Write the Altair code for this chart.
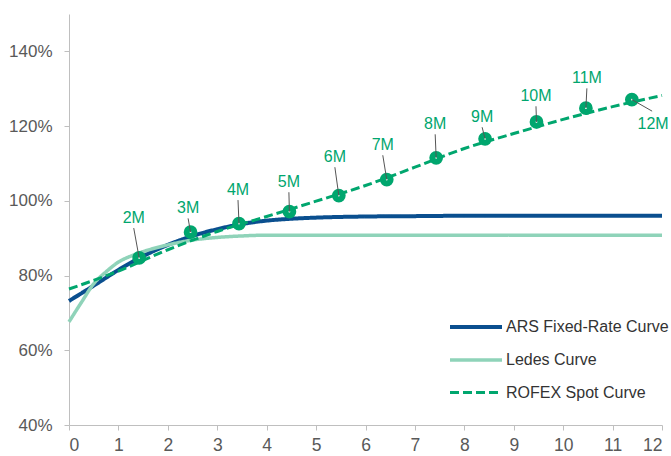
import altair as alt
import pandas as pd

# ---- curve samples (tenor in months vs. rate, %) ----
ars_x = [0, 0.5, 1, 1.5, 2, 2.5, 3, 3.5, 4, 4.5, 5, 6, 7, 8, 9, 10, 11, 12]
ars_y = [73.2, 77.3, 81.5, 85.2, 88.2, 90.6, 92.4, 93.8, 94.7, 95.2, 95.5, 95.8, 95.9, 96.0, 96.0, 96.0, 96.0, 96.0]

ledes_x = [0, 0.25, 0.5, 0.75, 1, 1.25, 1.5, 2, 2.5, 3, 3.5, 4, 5, 6, 7, 8, 9, 10, 11, 12]
ledes_y = [67.6, 72.8, 77.8, 81.0, 83.6, 85.2, 86.4, 88.2, 89.5, 90.2, 90.6, 90.8, 90.8, 90.8, 90.8, 90.8, 90.8, 90.8, 90.8, 90.8]

rofex_x = [0, 1, 2, 3, 4, 5, 6, 7, 8, 9, 10, 11, 12]
rofex_y = [76.4, 81.2, 86.9, 91.8, 95.8, 99.9, 104.1, 109.0, 114.0, 118.0, 121.8, 125.2, 128.2]

# ---- ROFEX contract points and their tags ----
tenor_labels = ["2M", "3M", "4M", "5M", "6M", "7M", "8M", "9M", "10M", "11M", "12M"]
spot_x = [1.42, 2.46, 3.44, 4.46, 5.46, 6.43, 7.43, 8.42, 9.46, 10.46, 11.39]
spot_y = [84.7, 91.6, 93.9, 97.1, 101.4, 105.7, 111.5, 116.6, 121.1, 124.8, 127.1]
tag_x = [1.31, 2.41, 3.42, 4.45, 5.38, 6.35, 7.41, 8.36, 9.45, 10.48, 11.80]
tag_y = [92.7, 95.3, 100.2, 102.3, 109.0, 112.2, 117.8, 119.7, 125.3, 130.1, 124.0]
tag_below = [False] * 10 + [True]

series_names = ["ARS Fixed-Rate Curve", "Ledes Curve", "ROFEX Spot Curve"]
series_colors = ["#0A4F8F", "#8FD3B9", "#00A66E"]
series_dash = [[1, 0], [1, 0], [9, 4]]
series_width = [4, 3, 4]

curves = pd.concat([
    pd.DataFrame({"x": ars_x, "y": ars_y, "series": series_names[0]}),
    pd.DataFrame({"x": ledes_x, "y": ledes_y, "series": series_names[1]}),
    pd.DataFrame({"x": rofex_x, "y": rofex_y, "series": series_names[2]}),
], ignore_index=True)

spots = pd.DataFrame({
    "label": tenor_labels, "x": spot_x, "y": spot_y,
    "tx": tag_x, "ty": tag_y, "below": tag_below,
})

FONT = "Liberation Sans"
GREEN = series_colors[2]

x_scale = alt.Scale(domain=[0, 12], nice=False)
y_scale = alt.Scale(domain=[40, 150], nice=False)

x_enc = alt.X("x:Q", scale=x_scale, axis=alt.Axis(
    values=list(range(0, 13)), title=None, labelPadding=6, labelFontSize=17.5))
y_enc = alt.Y("y:Q", scale=y_scale, axis=alt.Axis(
    values=[40, 60, 80, 100, 120, 140], title=None, labelExpr="datum.value + '%'",
    labelPadding=12, labelFontSize=17))

lines = alt.Chart(curves).mark_line(interpolate="monotone").encode(
    x=x_enc,
    y=y_enc,
    color=alt.Color("series:N", scale=alt.Scale(domain=series_names, range=series_colors),
                    legend=alt.Legend(title=None)),
    strokeDash=alt.StrokeDash("series:N", scale=alt.Scale(domain=series_names, range=series_dash),
                              legend=alt.Legend(title=None)),
    strokeWidth=alt.StrokeWidth("series:N", scale=alt.Scale(domain=series_names, range=series_width),
                                legend=None),
    order=alt.Order("x:Q"),
)

rings = alt.Chart(spots).mark_point(
    shape="circle", filled=False, fill="white", stroke=GREEN, strokeWidth=6, size=60, opacity=1
).encode(x="x:Q", y="y:Q")

leaders = alt.Chart(spots).mark_rule(color="#555555", strokeWidth=1).encode(
    x="x:Q", y="y:Q", x2="tx:Q", y2="ty:Q")

tags_above = alt.Chart(spots).transform_filter("!datum.below").mark_text(
    font=FONT, fontSize=16, color=GREEN, baseline="alphabetic", dy=-5
).encode(x="tx:Q", y="ty:Q", text="label:N")

tags_below = alt.Chart(spots).transform_filter("datum.below").mark_text(
    font=FONT, fontSize=16, color=GREEN, baseline="top", dy=5, dx=1
).encode(x="tx:Q", y="ty:Q", text="label:N")

chart = alt.layer(lines, rings, leaders, tags_above, tags_below).properties(
    width=593, height=411,
    autosize=alt.AutoSizeParams(type="none"),
    padding={"left": 69, "top": 14, "right": 9, "bottom": 31},
).configure_view(stroke=None).configure_axis(
    grid=False, domainColor="#BFBFBF", tickColor="#BFBFBF", tickSize=5,
    labelColor="#595959", labelFont=FONT,
).configure_legend(
    # wide horizontal stroke glyph: the path spans twice the nominal symbol box
    orient="none", legendX=392, legendY=298, symbolType="M-2,0H2", symbolSize=676,
    symbolStrokeWidth=3.5, labelFont=FONT, labelFontSize=16, labelColor="#333333",
    rowPadding=10, labelOffset=15, labelLimit=0,
)

chart.save("out.html", embed_options={"renderer": "svg", "actions": False})
